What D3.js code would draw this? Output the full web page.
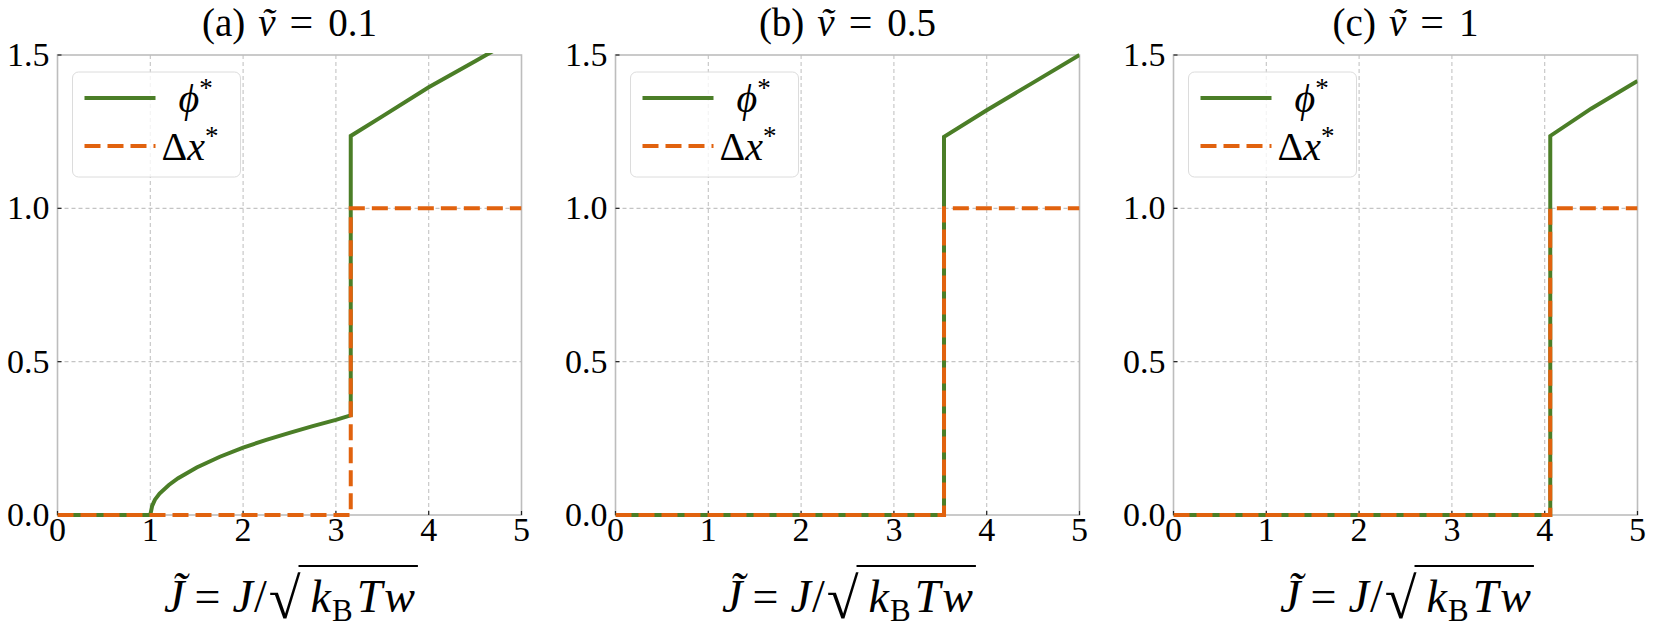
<!DOCTYPE html>
<html>
<head>
<meta charset="utf-8">
<script src="https://cdn.jsdelivr.net/npm/d3@7"></script>
<style>
  body { margin: 0; background: #fff; }
</style>
</head>
<body>
<div id="chart"></div>
<script>
// Panel titles and tick labels
var panelTags = ["(a)", "(b)", "(c)"];
var panelVs = ["0.1", "0.5", "1"];
var xTicks = [0, 1, 2, 3, 4, 5];
var yTicks = [0.0, 0.5, 1.0, 1.5];

// (a) v = 0.1
var phiA_J = [0, 1.0, 1.02, 1.05, 1.1, 1.2, 1.3, 1.5, 1.75, 2.0, 2.25, 2.5, 2.75, 3.0, 3.16, 3.16, 3.5, 4.0, 4.5, 5.0];
var phiA   = [0, 0, 0.03, 0.05, 0.07, 0.098, 0.12, 0.155, 0.19, 0.22, 0.245, 0.268, 0.29, 0.31, 0.325, 1.236, 1.30, 1.395, 1.48, 1.565];
var dxA_J  = [0, 3.16, 3.16, 5];
var dxA    = [0, 0, 1, 1];

// (b) v = 0.5
var phiB_J = [0, 3.54, 3.54, 4.0, 4.5, 5.0];
var phiB   = [0, 0, 1.233, 1.32, 1.41, 1.50];
var dxB_J  = [0, 3.54, 3.54, 5];
var dxB    = [0, 0, 1, 1];

// (c) v = 1
var phiC_J = [0, 4.06, 4.06, 4.5, 5.0];
var phiC   = [0, 0, 1.236, 1.325, 1.415];
var dxC_J  = [0, 4.06, 4.06, 5];
var dxC    = [0, 0, 1, 1];

var panels = [
    { phiJ: phiA_J, phi: phiA, dxJ: dxA_J, dx: dxA },
    { phiJ: phiB_J, phi: phiB, dxJ: dxB_J, dx: dxB },
    { phiJ: phiC_J, phi: phiC, dxJ: dxC_J, dx: dxC }
];

var green = "#4b7e27";
var orange = "#e1620e";
var FONT = "Liberation Serif";

var fullWidth = 1654, fullHeight = 631;
var plotW = 464, plotH = 460;
var plotTop = 55;
var lefts = [57.5, 615.5, 1173.5];

var svg = d3.select("#chart").append("svg")
    .attr("width", fullWidth)
    .attr("height", fullHeight);

// text helper: font set as attributes
function txt(parent, size) {
    return parent.append("text")
        .attr("font-family", FONT)
        .attr("font-size", size)
        .attr("fill", "#000");
}

// lay out a row of math-ish pieces one after the other
function mathRow(parent, pieces, baseY) {
    var cx = 0;
    var nodes = [];
    pieces.forEach(function(pc) {
        cx += pc.gap || 0;
        var t = txt(parent, pc.size).attr("x", cx).attr("y", baseY + (pc.dy || 0)).text(pc.s);
        if (pc.italic) t.attr("font-style", "italic");
        nodes.push({ node: t, x0: cx });
        cx += t.node().getComputedTextLength();
        nodes[nodes.length - 1].x1 = cx;
    });
    return { width: cx, nodes: nodes };
}

var x = d3.scaleLinear().domain([0, 5]).range([0, plotW]);
var y = d3.scaleLinear().domain([0, 1.5]).range([plotH, 0]);

var line = d3.line()
    .x(function(d) { return x(d[0]); })
    .y(function(d) { return y(d[1]); });

panels.forEach(function(p, i) {
    var g = svg.append("g")
        .attr("transform", "translate(" + lefts[i] + "," + plotTop + ")");

    // clip for curves
    g.append("clipPath").attr("id", "clip" + i)
        .append("rect").attr("x", 0).attr("y", -2).attr("width", plotW).attr("height", plotH + 4);

    // grid lines
    g.selectAll(".gx").data(xTicks.slice(1, -1)).enter().append("line")
        .attr("x1", d => x(d)).attr("x2", d => x(d))
        .attr("y1", 0).attr("y2", plotH)
        .attr("stroke", "#c4c4c4").attr("stroke-width", 1.1)
        .attr("stroke-dasharray", "4,3");
    g.selectAll(".gy").data(yTicks.slice(1, -1)).enter().append("line")
        .attr("x1", 0).attr("x2", plotW)
        .attr("y1", d => y(d)).attr("y2", d => y(d))
        .attr("stroke", "#c4c4c4").attr("stroke-width", 1.1)
        .attr("stroke-dasharray", "4,3");

    // frame
    g.append("rect")
        .attr("x", 0).attr("y", 0).attr("width", plotW).attr("height", plotH)
        .attr("fill", "none").attr("stroke", "#bdbdbd").attr("stroke-width", 1.6);

    // tick marks (inward)
    g.selectAll(".tx").data(xTicks).enter().append("line")
        .attr("x1", d => x(d)).attr("x2", d => x(d))
        .attr("y1", plotH).attr("y2", plotH - 4)
        .attr("stroke", "#222").attr("stroke-width", 1.2);
    g.selectAll(".ty").data(yTicks).enter().append("line")
        .attr("x1", 0).attr("x2", 4)
        .attr("y1", d => y(d)).attr("y2", d => y(d))
        .attr("stroke", "#222").attr("stroke-width", 1.2);

    // tick labels
    xTicks.forEach(function(t) {
        txt(g, 34).attr("x", x(t)).attr("y", plotH + 26)
            .attr("text-anchor", "middle").text(t);
    });
    yTicks.forEach(function(t) {
        txt(g, 34).attr("x", -8).attr("y", y(t) + 11)
            .attr("text-anchor", "end").text(t.toFixed(1));
    });

    // curves
    var curves = g.append("g").attr("clip-path", "url(#clip" + i + ")");
    curves.append("path")
        .datum(p.phiJ.map((j, k) => [j, p.phi[k]]))
        .attr("d", line)
        .attr("fill", "none").attr("stroke", green).attr("stroke-width", 4);
    curves.append("path")
        .datum(p.dxJ.map((j, k) => [j, p.dx[k]]))
        .attr("d", line)
        .attr("fill", "none").attr("stroke", orange).attr("stroke-width", 4)
        .attr("stroke-dasharray", "16,7");

    // title: (a) v~ = 0.1
    var tg = g.append("g");
    var tr = mathRow(tg, [
        { s: panelTags[i], size: 39 },
        { s: "v\u0303", size: 39, italic: true, gap: 13 },
        { s: "=", size: 42, gap: 14 },
        { s: panelVs[i], size: 39, gap: 15 }
    ], -19);
    tg.attr("transform", "translate(" + (plotW / 2 - tr.width / 2) + ",0)");

    // legend
    var lg = g.append("g").attr("transform", "translate(15,17)");
    lg.append("rect")
        .attr("width", 168).attr("height", 105).attr("rx", 6)
        .attr("fill", "#fff").attr("fill-opacity", 0.8)
        .attr("stroke", "#dcdcdc").attr("stroke-width", 1);
    lg.append("line")
        .attr("x1", 12).attr("x2", 83).attr("y1", 26).attr("y2", 26)
        .attr("stroke", green).attr("stroke-width", 4);
    lg.append("line")
        .attr("x1", 12).attr("x2", 83).attr("y1", 74).attr("y2", 74)
        .attr("stroke", orange).attr("stroke-width", 4)
        .attr("stroke-dasharray", "16,7");
    var l1 = txt(lg, 40).attr("x", 106).attr("y", 40);
    l1.append("tspan").attr("font-style", "italic").text("\u03d5");
    l1.append("tspan").attr("dy", -15).attr("font-size", 27).text("*");
    var l2 = txt(lg, 40).attr("x", 89).attr("y", 88);
    l2.append("tspan").text("\u0394");
    l2.append("tspan").attr("font-style", "italic").text("x");
    l2.append("tspan").attr("dy", -15).attr("font-size", 27).text("*");

    // x axis label: J~ = J / sqrt(kB T w)
    var lab = g.append("g");
    var base = plotH + 97;
    var row = mathRow(lab, [
        { s: "J\u0303", size: 46, italic: true },
        { s: "=", size: 46, gap: 10 },
        { s: "J", size: 46, italic: true, gap: 12 },
        { s: "/", size: 46, gap: 1 },
        { s: "\u221a", size: 58, gap: 2, dy: 6 },
        { s: "k", size: 46, italic: true, gap: 10 },
        { s: "B", size: 31, gap: 1, dy: 9 },
        { s: "T", size: 46, italic: true, gap: 4 },
        { s: "w", size: 46, italic: true, gap: 2 }
    ], base);
    var radN = row.nodes[4];
    lab.append("line")
        .attr("x1", radN.x1 - 2).attr("x2", row.width + 3)
        .attr("y1", base - 46).attr("y2", base - 46)
        .attr("stroke", "#000").attr("stroke-width", 2);
    lab.attr("transform", "translate(" + (plotW / 2 - row.width / 2) + ",0)");
});
</script>
</body>
</html>
